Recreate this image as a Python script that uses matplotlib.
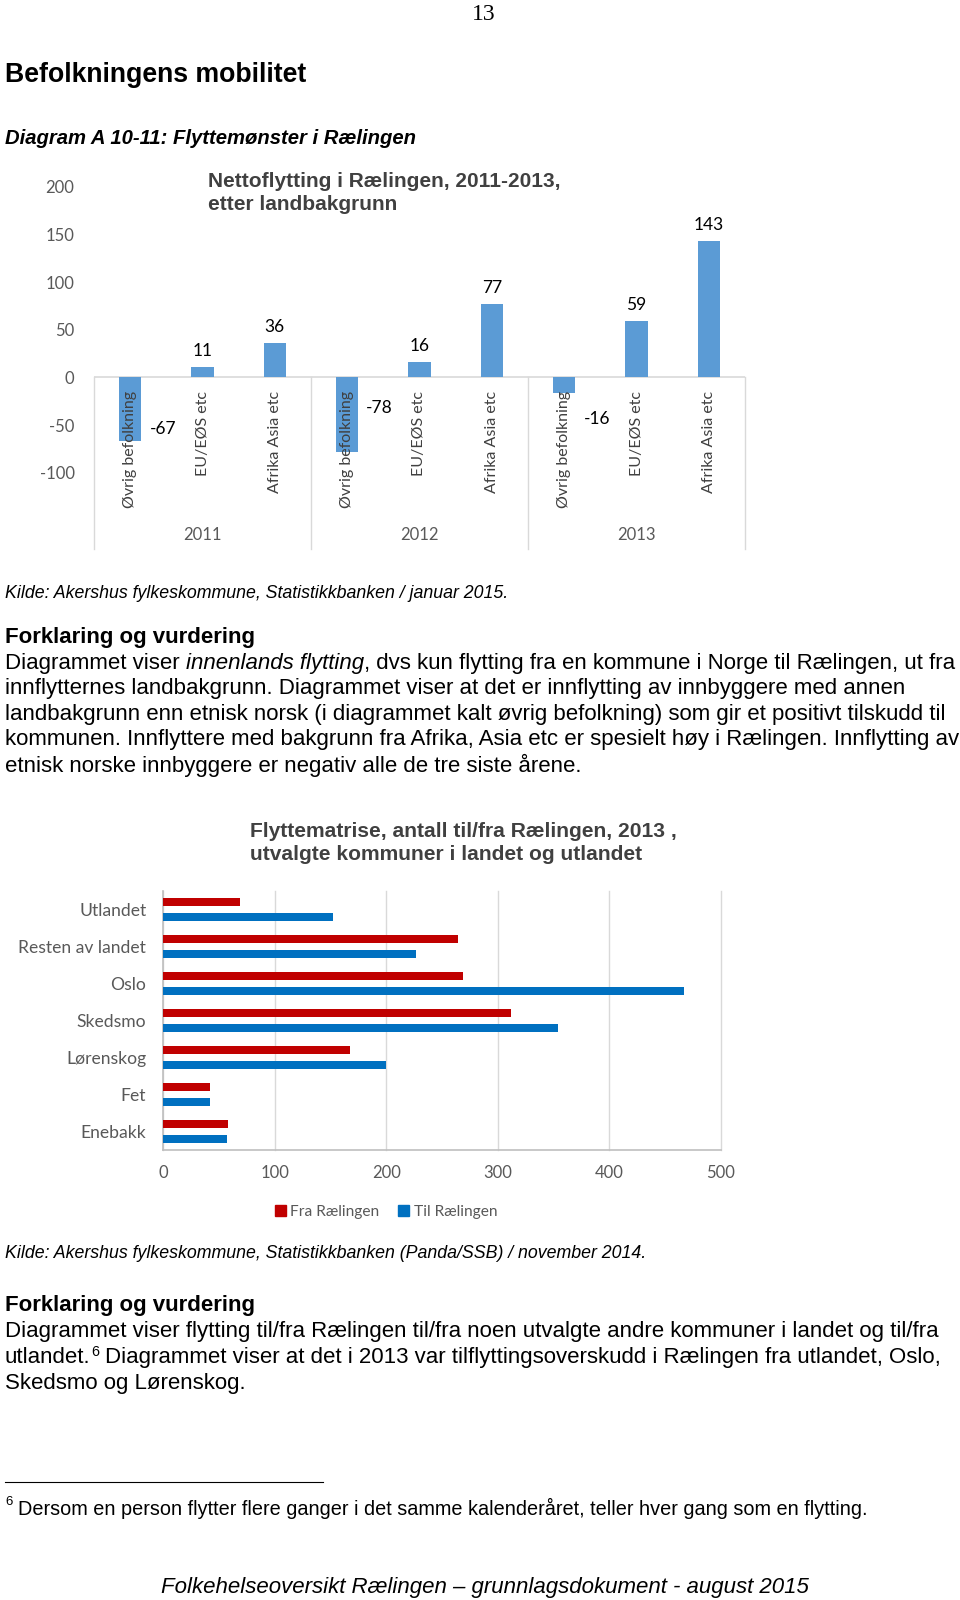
import matplotlib.pyplot as plt
from matplotlib.patches import Patch
import numpy as np

plt.rcParams['axes.unicode_minus'] = False

W, H = 960, 1600

# Nettoflytting etter landbakgrunn
aar = ['2011', '2012', '2013']
bakgrunn = ['Øvrig befolkning', 'EU/EØS etc', 'Afrika Asia etc']
netto_2011 = [-67, 11, 36]
netto_2012 = [-78, 16, 77]
netto_2013 = [-16, 59, 143]
netto_yticks = [-100, -50, 0, 50, 100, 150, 200]
# plassering av etiketter for negative verdier (y i dataenheter)
neg_etikett_y = {-67: -54, -78: -32, -16: -44}

# Flyttematrise 2013
kommuner = ['Utlandet', 'Resten av landet', 'Oslo', 'Skedsmo',
            'Lørenskog', 'Fet', 'Enebakk']
fra_raelingen = [69, 264, 269, 312, 168, 42, 58]
til_raelingen = [152, 227, 467, 354, 200, 42, 57]
matrise_xticks = [0, 100, 200, 300, 400, 500]

BODY = 'Liberation Sans'
CHART = 'Lato'
GRA = '#595959'
TITTEL = '#404040'
LINJE = '#D9D9D9'
BLA = '#5B9BD5'
ROD = '#C00000'
BLA2 = '#0070C0'
FS = 16

fig = plt.figure(figsize=(9.6, 16), dpi=100)

# side-akse i pikselkoordinater for all løpende tekst
side = fig.add_axes([0, 0, 1, 1])
side.set_xlim(0, W)
side.set_ylim(H, 0)
side.axis('off')
side.set_zorder(5)


def rect(x0, y0, x1, y1):
    return [x0 / W, 1 - y1 / H, (x1 - x0) / W, (y1 - y0) / H]


def linje(x, y, deler, size=FS):
    '''Skriver en linje satt sammen av flere deler (tekst, stil).'''
    tekst, stil = deler[0]
    t = side.text(x, y, tekst, fontsize=size, family=BODY, va='center', **stil)
    base = t
    for tekst, stil in deler[1:]:
        gap = 0
        if tekst.startswith(' '):
            gap = size * 0.278
            tekst = tekst.lstrip()
        if stil.get('sup'):
            t = side.annotate(tekst, xy=(1, 0.45), xycoords=t,
                              xytext=(0.5, 0), textcoords='offset points',
                              fontsize=size * 0.65, family=BODY,
                              ha='left', va='bottom')
        else:
            t = side.annotate(tekst, xy=(1, 0), xycoords=(t, base),
                              xytext=(gap, 0), textcoords='offset points',
                              fontsize=size, family=BODY,
                              ha='left', va='bottom', **stil)
            base = t
    return t


N = {}
I = {'style': 'italic'}
S = {'sup': True}

# sidetall og overskrifter
side.text(484, 15, '13', fontsize=17, family='Liberation Serif',
          ha='center', va='center')
side.text(5, 75.5, 'Befolkningens mobilitet', fontsize=19.2, family=BODY,
          weight='bold', va='center')
side.text(5, 138, 'Diagram A 10-11: Flyttemønster i Rælingen', fontsize=14.6,
          family=BODY, weight='bold', style='italic', va='center')

# ---------------- Diagram 1: nettoflytting ----------------
ax1 = fig.add_axes(rect(94, 186.7, 745, 472.9))
ax1.patch.set_alpha(0)
netto = netto_2011 + netto_2012 + netto_2013
x = np.arange(len(netto))
ax1.bar(x, netto, width=0.31, color=BLA, zorder=2)
ax1.set_xlim(-0.5, len(netto) - 0.5)
ax1.set_ylim(-100, 200)
ax1.set_yticks(netto_yticks)
ax1.set_xticks([])
ax1.tick_params(axis='y', length=0, pad=14, labelsize=12, labelcolor=GRA)
for lab in ax1.get_yticklabels():
    lab.set_family(CHART)
for sp in ax1.spines.values():
    sp.set_visible(False)
ax1.axhline(0, color=LINJE, lw=1.2, zorder=1)
for xb in [-0.5, 2.5, 5.5, 8.5]:
    ax1.plot([xb, xb], [0, -180], color=LINJE, lw=1, clip_on=False)

for i, v in enumerate(netto):
    ax1.annotate(bakgrunn[i % 3], xy=(i, 0), xytext=(0, -9.4),
                 textcoords='offset points', rotation=90, ha='center',
                 va='top', fontsize=11.5, family=CHART, color='#404040')
    if v >= 0:
        ax1.annotate(str(v), xy=(i, v), xytext=(0, 6),
                     textcoords='offset points', ha='center', va='bottom',
                     fontsize=12.5, family=CHART, color='black')
    else:
        ax1.text(i + 0.45, neg_etikett_y[v], str(v), ha='center',
                 va='center', fontsize=12.5, family=CHART, color='black')

for j, a in enumerate(aar):
    ax1.text(3 * j + 1, -165, a, ha='center', va='center', fontsize=12,
             family=CHART, color=GRA)

side.text(208, 181.6, 'Nettoflytting i Rælingen, 2011-2013,', fontsize=15,
          family=BODY, weight='bold', color=TITTEL, va='center')
side.text(208, 205, 'etter landbakgrunn', fontsize=15,
          family=BODY, weight='bold', color=TITTEL, va='center')

side.text(5, 594, 'Kilde: Akershus fylkeskommune, Statistikkbanken / januar 2015.',
          fontsize=12.8, family=BODY, style='italic', va='center')

# ---------------- Tekst 1 ----------------
side.text(5, 638, 'Forklaring og vurdering', fontsize=FS, family=BODY,
          weight='bold', va='center')
tekst1 = [
    [('Diagrammet viser', N), (' innenlands flytting', I),
     (', dvs kun flytting fra en kommune i Norge til Rælingen, ut fra', N)],
    [('innflytternes landbakgrunn. Diagrammet viser at det er innflytting av innbyggere med annen', N)],
    [('landbakgrunn enn etnisk norsk (i diagrammet kalt øvrig befolkning) som gir et positivt tilskudd til', N)],
    [('kommunen. Innflyttere med bakgrunn fra Afrika, Asia etc er spesielt høy i Rælingen. Innflytting av', N)],
    [('etnisk norske innbyggere er negativ alle de tre siste årene.', N)],
]
for k, deler in enumerate(tekst1):
    linje(5, 663.3 + 25.5 * k, deler)

# ---------------- Diagram 2: flyttematrise ----------------
ax2 = fig.add_axes(rect(163, 891, 721, 1150))
ax2.patch.set_alpha(0)
y = np.arange(len(kommuner))
ax2.barh(y - 0.205, fra_raelingen, height=0.2, color=ROD, zorder=3)
ax2.barh(y + 0.205, til_raelingen, height=0.2, color=BLA2, zorder=3)
ax2.set_ylim(len(kommuner) - 0.5, -0.5)
ax2.set_xlim(0, 500)
ax2.set_xticks(matrise_xticks)
ax2.set_yticks(y)
ax2.set_yticklabels(kommuner)
ax2.grid(axis='x', color=LINJE, lw=1, zorder=0)
ax2.tick_params(axis='both', length=0, labelsize=12, labelcolor=GRA)
ax2.tick_params(axis='x', pad=11)
ax2.tick_params(axis='y', pad=12, labelsize=12.6)
for lab in ax2.get_xticklabels() + ax2.get_yticklabels():
    lab.set_family(CHART)
for s in ['top', 'right']:
    ax2.spines[s].set_visible(False)
for s in ['left', 'bottom']:
    ax2.spines[s].set_color('#BFBFBF')
    ax2.spines[s].set_linewidth(1.2)
for gl in ax2.get_xgridlines():
    gl.set_clip_on(False)

fig.legend(handles=[Patch(color=ROD), Patch(color=BLA2)],
           labels=['Fra Rælingen', 'Til Rælingen'], loc='center',
           bbox_to_anchor=(386 / W, 1 - 1212 / H), ncol=2, frameon=False,
           handlelength=0.7, handleheight=0.7, handletextpad=0.3,
           columnspacing=1.2, prop={'family': CHART, 'size': 11.2},
           labelcolor=GRA)

side.text(250, 831.6, 'Flyttematrise, antall til/fra Rælingen, 2013 ,',
          fontsize=15.1, family=BODY, weight='bold', color=TITTEL, va='center')
side.text(250, 855, 'utvalgte kommuner i landet og utlandet',
          fontsize=15.1, family=BODY, weight='bold', color=TITTEL, va='center')

side.text(5, 1253, 'Kilde: Akershus fylkeskommune, Statistikkbanken (Panda/SSB) / november 2014.',
          fontsize=12.8, family=BODY, style='italic', va='center')

# ---------------- Tekst 2 ----------------
side.text(5, 1306, 'Forklaring og vurdering', fontsize=FS, family=BODY,
          weight='bold', va='center')
tekst2 = [
    [('Diagrammet viser flytting til/fra Rælingen til/fra noen utvalgte andre kommuner i landet og til/fra', N)],
    [('utlandet.', N), ('6', S),
     (' Diagrammet viser at det i 2013 var tilflyttingsoverskudd i Rælingen fra utlandet, Oslo,', N)],
    [('Skedsmo og Lørenskog.', N)],
]
for k, deler in enumerate(tekst2):
    linje(5, 1331.6 + 26 * k, deler)

# fotnote
side.plot([5, 323], [1481.6, 1481.6], color='black', lw=0.8)
side.text(5, 1502, '6', fontsize=9.5, family=BODY, va='center')
side.text(18, 1508, 'Dersom en person flytter flere ganger i det samme kalenderåret, '
          'teller hver gang som en flytting.', fontsize=14.3, family=BODY,
          va='center')

# bunntekst
side.text(485, 1588, 'Folkehelseoversikt Rælingen \u2013 grunnlagsdokument - august 2015',
          fontsize=16, family=BODY, style='italic', ha='center', va='center')

fig.savefig('out.png', dpi=100)
